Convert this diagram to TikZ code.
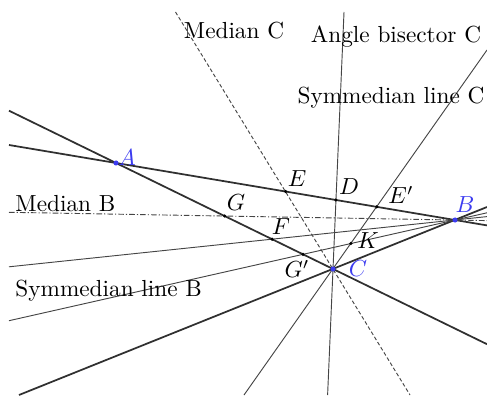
\documentclass[tikz,border=0pt]{standalone}
\usepackage{amsmath}
\usepackage{tikz}
\usetikzlibrary{calc}
\definecolor{ptblue}{HTML}{3C3CF0}
\definecolor{linegray}{HTML}{303030}

\begin{document}
\begin{tikzpicture}[
    x=0.43pt, y=-0.43pt,
    side/.style={draw=linegray, line width=0.75pt},
    cevian/.style={draw=linegray!90, line width=0.4pt},
    mediandash/.style={cevian, dash pattern=on 1.6pt off 1pt},
    mediandashdot/.style={cevian, dash pattern=on 2.4pt off 0.9pt on 0.5pt off 0.9pt},
    vertex/.style={circle, fill=ptblue, inner sep=0pt, minimum size=2.2pt},
    foot/.style={circle, fill=black, inner sep=0pt, minimum size=1.5pt},
    vlabel/.style={text=ptblue, inner sep=0pt},
    plabel/.style={inner sep=0pt},
    caption/.style={inner sep=0pt}
  ]
    \useasboundingbox (0,0) rectangle (487,395);

    % triangle
    \coordinate (A) at (116,163);
    \coordinate (B) at (455,220);
    \coordinate (C) at (333,269);

    % free ends of the lines
    \coordinate (abL) at (9,145);
    \coordinate (abR) at (487,225.4);
    \coordinate (acL) at (9,110.7);
    \coordinate (acR) at (487,344.2);
    \coordinate (bcL) at (19,395);
    \coordinate (bcR) at (487,207);
    \coordinate (mbL) at (9,212.3);
    \coordinate (mbR) at (487,220.6);
    \coordinate (bbL) at (9,266.8);
    \coordinate (bbR) at (487,216.6);
    \coordinate (sbL) at (9,320.7);
    \coordinate (sbR) at (487,212.8);
    \coordinate (mcT) at (175.5,12);
    \coordinate (mcD) at (410,395);
    \coordinate (bcT) at (344,12);
    \coordinate (bcD) at (327.6,395);
    \coordinate (scT) at (487,50);
    \coordinate (scD) at (244,395);

    % special points
    \coordinate (E) at ($(A)!0.5!(B)$);
    \coordinate (G) at ($(A)!0.5!(C)$);
    \coordinate (D) at (intersection of A--B and C--bcT);
    \coordinate (Ep) at (intersection of A--B and C--scT);
    \coordinate (F) at (intersection of A--C and B--bbL);
    \coordinate (Gp) at (intersection of A--C and B--sbL);
    \coordinate (K) at (intersection of B--sbL and C--scT);

    % sides
    \draw[side] (abL) -- (abR);
    \draw[side] (acL) -- (acR);
    \draw[side] (bcL) -- (bcR);

    % lines through B
    \draw[mediandashdot] (mbL) -- (mbR);
    \draw[cevian] (bbL) -- (bbR);
    \draw[cevian] (sbL) -- (sbR);

    % lines through C
    \draw[mediandash] (mcT) -- (mcD);
    \draw[cevian] (bcT) -- (bcD);
    \draw[cevian] (scT) -- (scD);

    % points
    \foreach \p in {E,D,Ep,G,F,K,Gp}
      \node[foot] at (\p) {};
    \foreach \p in {A,B,C}
      \node[vertex] at (\p) {};

    % labels
    \node[vlabel] (lA) at (127,158) {$A$};
    \node[vlabel] (lB) at (465,205) {$B$};
    \node[vlabel] (lC) at (358,269) {$C$};
    \node[plabel] (lE) at (297,179) {$E$};
    \node[plabel] (lD) at (349,187) {$D$};
    \node[plabel] (lEp) at (401,195) {$E'$};
    \node[plabel] (lG) at (236,203) {$G$};
    \node[plabel] (lF) at (281,227) {$F$};
    \node[plabel] (lK) at (368,241) {$K$};
    \node[plabel] (lGp) at (297,269) {$G'$};

    \node[caption] (capMC) at (234,31) {Median C};
    \node[caption] (capBC) at (396,37) {Angle bisector C};
    \node[caption] (capSC) at (391,98) {Symmedian line C};
    \node[caption, anchor=west] (capMB) at (15,204) {Median B};
    \node[caption, anchor=west] (capSB) at (15,291) {Symmedian line B};
  \end{tikzpicture}
\end{document}
